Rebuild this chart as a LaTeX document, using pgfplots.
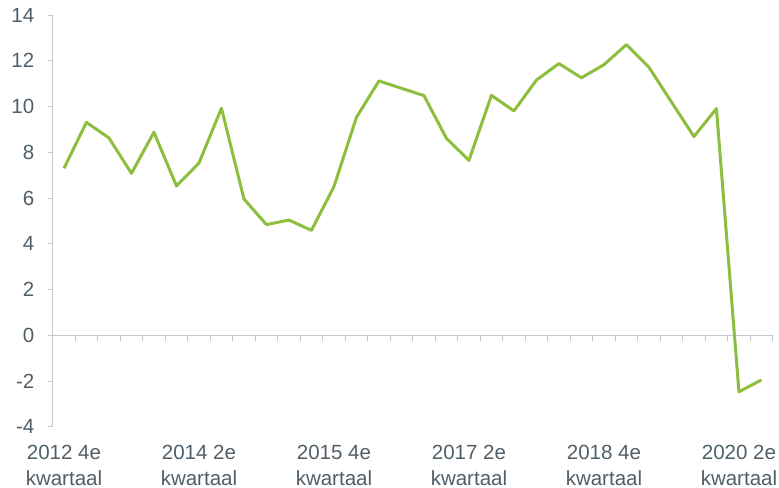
\documentclass[border=0pt]{standalone}
\usepackage{pgfplots}
\pgfplotsset{compat=1.18}
\usepackage{fontspec}
\setmainfont{Liberation Sans}
\definecolor{txt}{RGB}{80,94,104}
\definecolor{axg}{RGB}{191,200,206}
\definecolor{grn}{RGB}{141,190,62}
\begin{document}
\begin{tikzpicture}
\begin{axis}[
  scale only axis, width=720bp, height=411.7bp,
  xmin=0, xmax=32, ymin=-4, ymax=14,
  axis x line*=bottom, x axis line style={draw=none},
  axis y line*=left, y axis line style={axg, line width=1bp},
  ytick={-4,-2,...,14},
  ytick style={axg, line width=1bp},
  xtick style={draw=none},
  tick align=outside, major tick length=5bp,
  /pgf/number format/assume math mode=true,
  yticklabel style={font=\fontsize{20.5bp}{24bp}\selectfont, text=txt, inner sep=0pt, anchor=east, xshift=-13.2bp},
  xtick={0.5,6.5,12.5,18.5,24.5,30.5},
  xticklabels={{2012 4e\\kwartaal},{2014 2e\\kwartaal},{2015 4e\\kwartaal},{2017 2e\\kwartaal},{2018 4e\\kwartaal},{2020 2e\\kwartaal}},
  xticklabel style={align=center, font=\fontsize{20.5bp}{26bp}\selectfont, text=txt, inner sep=0pt, anchor=north, yshift=-13.4bp},
  clip=false,
]
\draw[axg, line width=1bp] (axis cs:0,0) -- (axis cs:32,0);
\pgfplotsinvokeforeach{0,...,32}{\draw[axg, line width=1bp] (axis cs:#1,0) -- ([yshift=-6bp]axis cs:#1,0);}
\addplot[grn, line width=3bp, line join=round] coordinates {
(0.5,7.30) (1.5,9.31) (2.5,8.63) (3.5,7.08) (4.5,8.88) (5.5,6.53) (6.5,7.53) (7.5,9.93)
(8.5,5.96) (9.5,4.84) (10.5,5.04) (11.5,4.59) (12.5,6.50) (13.5,9.53) (14.5,11.12) (15.5,10.80)
(16.5,10.48) (17.5,8.61) (18.5,7.65) (19.5,10.49) (20.5,9.81) (21.5,11.16) (22.5,11.88) (23.5,11.26)
(24.5,11.83) (25.5,12.71) (26.5,11.72) (27.5,10.20) (28.5,8.69) (29.5,9.91) (30.5,-2.47) (31.5,-1.95)
};
\end{axis}
\pgfresetboundingbox
\path (-52.7bp,-61.2bp) rectangle (726.3bp,426.8bp);
\end{tikzpicture}
\end{document}
